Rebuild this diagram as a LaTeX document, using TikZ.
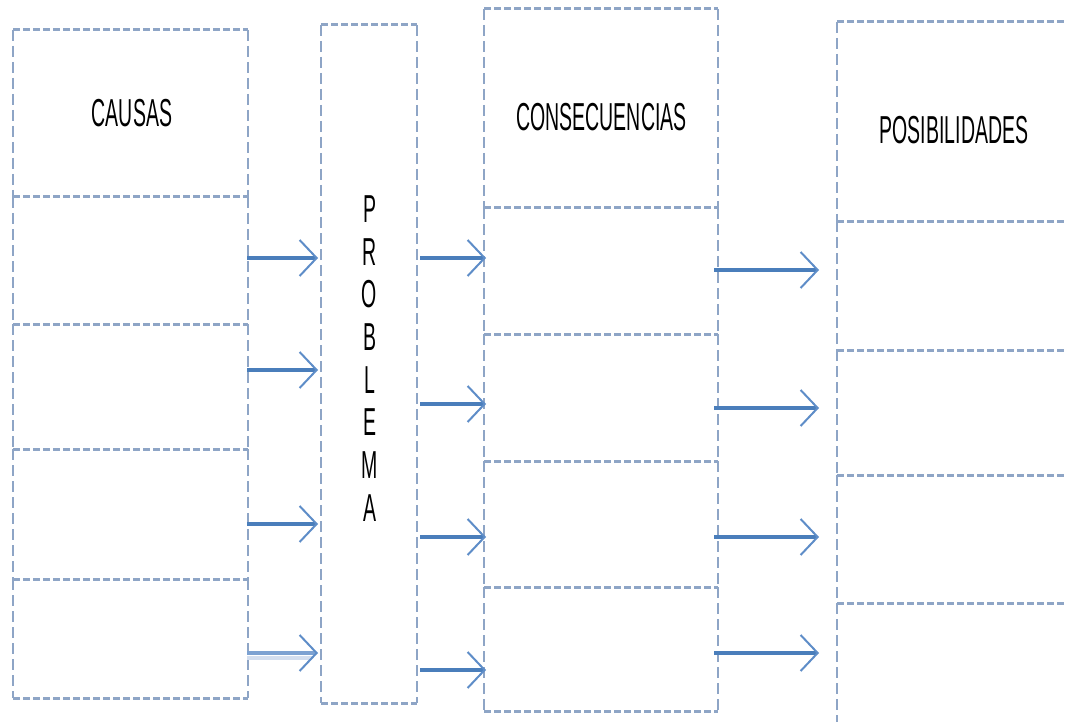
\documentclass[tikz,border=0pt]{standalone}
\usepackage{fontspec}
\newfontfamily\narrowfont[FakeStretch=0.5]{Liberation Sans}
\usetikzlibrary{arrows.meta}
\definecolor{borderblue}{HTML}{8EA5C6}
\definecolor{arrowblue}{HTML}{4A7EBB}
\definecolor{headblue}{HTML}{5E8DC8}
\definecolor{paleblue}{HTML}{7DA2D2}
\definecolor{paleshadow}{HTML}{D3DEEF}
\tikzset{
  cell/.style={draw=none, inner sep=0pt, outer sep=0pt, anchor=north west},
  hline/.style={draw=borderblue, line width=3pt, dash pattern=on 7pt off 3pt},
  vline/.style={draw=borderblue, line width=2pt, dash pattern=on 11pt off 5pt},
  title/.style={inner sep=0pt, text=black, font=\narrowfont\fontsize{39}{42.7}\selectfont},
  arr/.style={draw=arrowblue, line width=3.5pt,
    -{Straight Barb[length=17pt,width=36pt,line width=2pt,color=headblue]}},
}
\begin{document}
\begin{tikzpicture}[x=1pt,y=-1pt]
\clip (0,0) rectangle (1065,722);
\fill[white] (0,0) rectangle (1065,722);
% column 1: causas
\node[cell, minimum width=235pt, minimum height=167pt] (c0) at (13,30) {};
\node[cell, minimum width=235pt, minimum height=127pt] (c1) at (13,197) {};
\node[cell, minimum width=235pt, minimum height=125pt] (c2) at (13,324) {};
\node[cell, minimum width=235pt, minimum height=130pt] (c3) at (13,449) {};
\node[cell, minimum width=235pt, minimum height=119pt] (c4) at (13,579) {};
% problema
\node[cell, minimum width=96pt, minimum height=678pt] (p) at (321,25) {};
% column 3: consecuencias
\node[cell, minimum width=234pt, minimum height=199pt] (q0) at (484,9) {};
\node[cell, minimum width=234pt, minimum height=126pt] (q1) at (484,208) {};
\node[cell, minimum width=234pt, minimum height=127pt] (q2) at (484,334) {};
\node[cell, minimum width=234pt, minimum height=126pt] (q3) at (484,461) {};
\node[cell, minimum width=234pt, minimum height=124pt] (q4) at (484,587) {};
% column 4: posibilidades
\node[cell, minimum width=234pt, minimum height=199pt] (s0) at (837,22) {};
\node[cell, minimum width=234pt, minimum height=129pt] (s1) at (837,221) {};
\node[cell, minimum width=234pt, minimum height=125pt] (s2) at (837,350) {};
\node[cell, minimum width=234pt, minimum height=128pt] (s3) at (837,475) {};
\node[cell, minimum width=234pt, minimum height=160pt] (s4) at (837,603) {};
\foreach \b in {c0,c1,c2,c3,c4,p,q0,q1,q2,q3,q4,s0,s1,s2,s3,s4}{
  \draw[hline] (\b.north west) -- (\b.north east) (\b.south west) -- (\b.south east);
  \draw[vline] (\b.north west) -- (\b.south west) (\b.north east) -- (\b.south east);
}
% titles
\node[title] (tc) at (132,113.5) {CAUSAS};
\node[title] (tq) at (601.5,117.5) {CONSECUENCIAS};
\node[title] (ts) at (954,130.5) {POSIBILIDADES};
\node[title, align=center] (tp) at (369.5,358.5) {P\\R\\O\\B\\L\\E\\M\\A};
% arrow end points
\coordinate (a1s) at (247,258); \coordinate (a1e) at (318,258);
\coordinate (a2s) at (247,370); \coordinate (a2e) at (318,370);
\coordinate (a3s) at (247,524); \coordinate (a3e) at (318,524);
\coordinate (a4s) at (247,653); \coordinate (a4e) at (318,653);
\coordinate (a4shs) at (247,658); \coordinate (a4she) at (312,658);
\coordinate (b1s) at (420,258); \coordinate (b1e) at (486,258);
\coordinate (b2s) at (420,404); \coordinate (b2e) at (486,404);
\coordinate (b3s) at (420,537); \coordinate (b3e) at (486,537);
\coordinate (b4s) at (420,670); \coordinate (b4e) at (486,670);
\coordinate (d1s) at (714,270); \coordinate (d1e) at (819,270);
\coordinate (d2s) at (714,408); \coordinate (d2e) at (819,408);
\coordinate (d3s) at (714,537); \coordinate (d3e) at (819,537);
\coordinate (d4s) at (714,653); \coordinate (d4e) at (819,653);
\draw[arr] (a1s) -- (a1e);
\draw[arr] (a2s) -- (a2e);
\draw[arr] (a3s) -- (a3e);
\draw[draw=paleshadow, line width=4pt] (a4shs) -- (a4she);
\draw[arr, draw=paleblue] (a4s) -- (a4e);
\draw[arr] (b1s) -- (b1e);
\draw[arr] (b2s) -- (b2e);
\draw[arr] (b3s) -- (b3e);
\draw[arr] (b4s) -- (b4e);
\draw[arr] (d1s) -- (d1e);
\draw[arr] (d2s) -- (d2e);
\draw[arr] (d3s) -- (d3e);
\draw[arr] (d4s) -- (d4e);
\end{tikzpicture}
\end{document}
